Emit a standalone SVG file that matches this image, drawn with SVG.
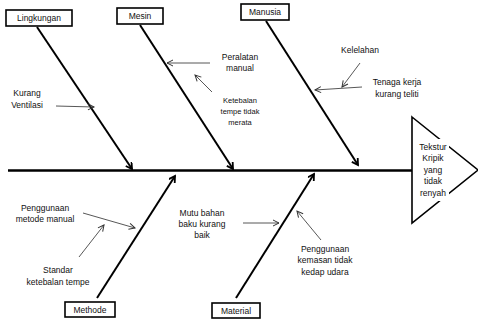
<svg xmlns="http://www.w3.org/2000/svg" width="478" height="323" viewBox="0 0 478 323">
<defs>
<marker id="big" markerWidth="10" markerHeight="10" refX="7" refY="4" orient="auto" markerUnits="userSpaceOnUse">
<path d="M1,0.5 L7,4 L1,7.5" fill="none" stroke="#000" stroke-width="1.8"/>
</marker>
<marker id="small" markerWidth="10" markerHeight="10" refX="7" refY="4" orient="auto" markerUnits="userSpaceOnUse">
<path d="M1,1 L7,4 L1,7" fill="none" stroke="#333" stroke-width="1"/>
</marker>
</defs>
<style>
text{font-family:"Liberation Sans",Arial,sans-serif;font-size:8.5px;fill:#111;text-anchor:middle}
.sm{font-size:7.5px}
.box{fill:#fff;stroke:#000;stroke-width:1.6}
.bone{stroke:#000;stroke-width:2;fill:none;marker-end:url(#big)}
.thin{stroke:#444;stroke-width:0.9;fill:none;marker-end:url(#small)}
</style>
<rect width="478" height="323" fill="#fff"/>
<g id="connectors">
<line x1="8" y1="170.5" x2="412" y2="170.5" stroke="#000" stroke-width="2.5"/>
<line class="bone" x1="37" y1="27" x2="132" y2="169"/>
<line class="bone" x1="140" y1="25" x2="233" y2="169"/>
<line class="bone" x1="266" y1="21" x2="358" y2="165"/>
<line class="bone" x1="97" y1="298" x2="175" y2="176"/>
<line class="bone" x1="236" y1="298" x2="314" y2="174"/>
<line class="thin" x1="56" y1="106" x2="94" y2="107"/>
<line class="thin" x1="210" y1="63" x2="167" y2="63"/>
<line class="thin" x1="212" y1="92" x2="195" y2="75"/>
<line class="thin" x1="360" y1="63" x2="342" y2="87"/>
<line class="thin" x1="362" y1="87" x2="315" y2="90"/>
<line class="thin" x1="83" y1="213" x2="135" y2="228"/>
<line class="thin" x1="79" y1="257" x2="104" y2="225"/>
<line class="thin" x1="243" y1="223" x2="279" y2="223"/>
<line class="thin" x1="321" y1="240" x2="297" y2="211"/>
</g>
<g id="lingkungan"><rect class="box" x="6" y="10" width="66" height="16"/><text x="39" y="21">Lingkungan</text></g>
<g id="mesin"><rect class="box" x="117" y="8" width="46" height="16"/><text x="140" y="19">Mesin</text></g>
<g id="manusia"><rect class="box" x="241" y="4" width="48" height="16"/><text x="265" y="15">Manusia</text></g>
<g id="methode"><rect class="box" x="65" y="302" width="50" height="15"/><text x="90" y="313">Methode</text></g>
<g id="material"><rect class="box" x="212" y="303" width="48" height="15"/><text x="236" y="314">Material</text></g>
<g id="effect"><polygon points="412,117 478,170 412,223" fill="#fff" stroke="#000" stroke-width="1.6"/>
<rect x="418" y="139" width="31" height="62" fill="#fff"/>
<text x="433" y="150">Tekstur</text><text x="433" y="161">Kripik</text><text x="433" y="173">yang</text><text x="433" y="184">tidak</text><text x="433" y="196">renyah</text></g>
<g id="kurang-ventilasi"><text x="27" y="96">Kurang</text><text x="27" y="108">Ventilasi</text></g>
<g id="peralatan"><text x="240" y="60">Peralatan</text><text x="240" y="71">manual</text></g>
<g id="ketebalan"><text class="sm" x="240" y="103">Ketebalan</text><text class="sm" x="240" y="114">tempe tidak</text><text class="sm" x="240" y="125">merata</text></g>
<g id="kelelahan"><text x="360" y="53">Kelelahan</text></g>
<g id="tenaga"><text x="397" y="85">Tenaga kerja</text><text x="397" y="97">kurang teliti</text></g>
<g id="metode-manual"><text x="45" y="211">Penggunaan</text><text x="45" y="222">metode manual</text></g>
<g id="standar"><text x="58" y="273">Standar</text><text x="58" y="285">ketebalan tempe</text></g>
<g id="mutu"><text x="202" y="216">Mutu bahan</text><text x="202" y="227">baku kurang</text><text x="202" y="238">baik</text></g>
<g id="kemasan"><text x="325" y="252">Penggunaan</text><text x="325" y="263">kemasan tidak</text><text x="325" y="275">kedap udara</text></g>
</svg>
